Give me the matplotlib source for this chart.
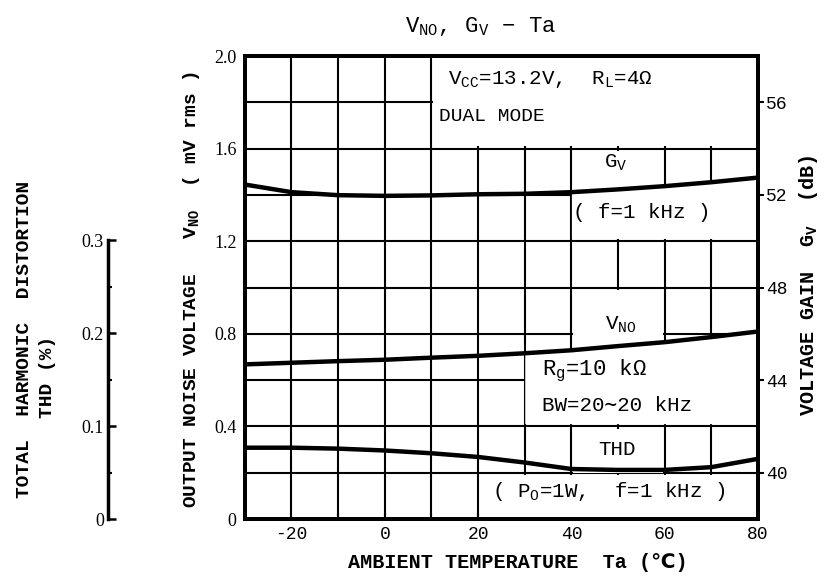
import numpy as np
import matplotlib
matplotlib.use("Agg")
import matplotlib.pyplot as plt

plt.rcParams['font.family'] = ['Liberation Mono', 'DejaVu Sans Mono', 'DejaVu Sans']
plt.rcParams['mathtext.default'] = 'regular'

# Data
ta = [-30, -20, -10, 0, 10, 20, 30, 40, 50, 60, 70, 80]
vno = [0.668, 0.675, 0.682, 0.688, 0.697, 0.705, 0.716, 0.729, 0.747, 0.764, 0.786, 0.810]   # mVrms
gv = [52.45, 52.12, 51.99, 51.96, 51.98, 52.03, 52.05, 52.12, 52.24, 52.38, 52.55, 52.75]     # dB
thd = [0.077, 0.077, 0.076, 0.074, 0.071, 0.067, 0.061, 0.054, 0.053, 0.053, 0.056, 0.065]   # %

x_ticks = list(range(-30, 81, 10))
x_labels = ['', '-20', '', '0', '', '20', '', '40', '', '60', '', '80']
v_ticks = [0, 0.2, 0.4, 0.6, 0.8, 1.0, 1.2, 1.4, 1.6, 1.8, 2.0]
v_labels = ['0', '', '0.4', '', '0.8', '', '1.2', '', '1.6', '', '2.0']
gv_ticks = [40, 44, 48, 52, 56]
thd_ticks = [0, 0.1, 0.2, 0.3]
thd_labels = ['0', '0.1', '0.2', '0.3']

# right/THD scales relative to the V_NO scale (0..2.0)
gv_lim = (38, 58)
thd_lim = (0, 0.5)

ta = np.array(ta)
vno = np.array(vno)
gv = np.array(gv)
thd = np.array(thd)
# G_V curve expressed in left-axis units, used for masking the grid
gv_v = (gv - gv_lim[0]) / (gv_lim[1] - gv_lim[0]) * 2.0

fig = plt.figure(figsize=(8.27, 5.84), dpi=100)
ax = fig.add_axes([0.296, 0.1113, 0.6206, 0.7927])

ax.set_xlim(-30, 80)
ax.set_ylim(0, 2.0)
ax.set_xticks(x_ticks)
ax.set_xticklabels(x_labels)
ax.set_yticks(v_ticks)
ax.set_yticklabels(v_labels, fontfamily='Liberation Serif')
ax.set_axisbelow(True)
ax.grid(True, color='black', lw=1.5)
ax.tick_params(axis='x', direction='in', length=4, width=1.5, labelsize=13, pad=5)
ax.tick_params(axis='y', direction='out', length=0, labelsize=13, pad=6)
for s in ax.spines.values():
    s.set_linewidth(2.8)

# white areas where the grid is interrupted for the annotations
d = 0.012
w = dict(color='white', lw=0, zorder=1)
ax.fill_between([10.4, 80], 1.6 + d, 2.0, **w)
ax.fill_between(ta[ta >= 40], 1.2 + d, gv_v[ta >= 40], **w)
ax.fill_between([40.4, 59.6], 1.35, 1.6 - d, **w)
ax.fill_between([40.4, 59.6], 0.7, 1.0 - d, **w)
ax.fill_between(ta[ta >= 30], 0.4 + d, vno[ta >= 30], **w)
ax.fill_between([30.4, 80], 0.4 + d, 0.7, **w)
ax.fill_between([40.4, 59.6], 0.2, 0.4 - d, **w)
ax.fill_between([20.4, 80], 0.01, 0.2 - d, **w)

ax.text(13.6, 1.90, 'V$_{CC}$=13.2V,  R$_L$=4Ω', fontsize=15, va='center', zorder=2)
ax.text(11.6, 1.74, 'DUAL MODE', fontsize=14, va='center', zorder=2)
ax.text(49.5, 1.54, 'G$_V$', fontsize=15, ha='center', va='center', zorder=2)
ax.text(55.0, 1.325, '( f=1 kHz )', fontsize=15, ha='center', va='center', zorder=2)
ax.text(50.5, 0.84, 'V$_{NO}$', fontsize=15, ha='center', va='center', zorder=2)
ax.text(33.8, 0.64, 'R$_g$=10 kΩ', fontsize=16, va='center', zorder=2)
ax.text(33.8, 0.49, 'BW=20∼20 kHz', fontsize=15, va='center', zorder=2)
ax.text(49.8, 0.30, 'THD', fontsize=15, ha='center', va='center', zorder=2)
ax.text(48.0, 0.12, '( P$_O$=1W,  f=1 kHz )', fontsize=15, ha='center', va='center', zorder=2)

ax.plot(ta, vno, color='black', lw=3.2, zorder=3)

ax_gv = ax.twinx()
ax_gv.set_ylim(*gv_lim)
ax_gv.set_yticks(gv_ticks)
ax_gv.tick_params(axis='y', direction='out', length=4, width=1.5, labelsize=13, pad=2)
ax_gv.plot(ta, gv, color='black', lw=3.2)
for s in ax_gv.spines.values():
    s.set_linewidth(2.8)

ax_t = ax.twinx()
ax_t.set_ylim(*thd_lim)
ax_t.axis('off')
ax_t.plot(ta, thd, color='black', lw=3.2)

# separate THD scale on the far left
ax_s = fig.add_axes([0.1306, 0.1113, 0.01, 0.4777])
ax_s.set_ylim(0, 0.3)
ax_s.set_yticks(thd_ticks)
ax_s.set_yticklabels(thd_labels, fontfamily='Liberation Serif')
ax_s.set_yticks([0.05, 0.15, 0.25], minor=True)
ax_s.tick_params(axis='y', which='major', direction='in', length=6, width=1.8, labelsize=13, pad=3)
ax_s.tick_params(axis='y', which='minor', direction='in', length=3, width=1.5)
ax_s.set_xticks([])
ax_s.patch.set_visible(False)
for k in ['top', 'right', 'bottom']:
    ax_s.spines[k].set_visible(False)
ax_s.spines['left'].set_linewidth(2.5)

fig.text(481 / 827, 1 - 26 / 584, 'V$_{NO}$, G$_V$ − Ta', fontsize=16, ha='center', va='center')
fig.text(518 / 827, 1 - 563 / 584, 'AMBIENT TEMPERATURE  Ta (℃)', fontsize=14.5, fontweight='bold',
         ha='center', va='center')
fig.text(191 / 827, 1 - 290 / 584, 'OUTPUT NOISE VOLTAGE   V$_{NO}$  ( mV rms )', fontsize=14,
         fontweight='bold', rotation=90, ha='center', va='center')
fig.text(808 / 827, 1 - 285 / 584, 'VOLTAGE GAIN  G$_V$  (dB)', fontsize=14.5, fontweight='bold',
         rotation=90, ha='center', va='center')
fig.text(25 / 827, 1 - 339 / 584, 'TOTAL  HARMONIC  DISTORTION', fontsize=14, fontweight='bold',
         rotation=90, ha='center', va='center')
fig.text(47 / 827, 1 - 377 / 584, 'THD (%)', fontsize=14, fontweight='bold',
         rotation=90, ha='center', va='center')

fig.savefig('out.png', dpi=100)
